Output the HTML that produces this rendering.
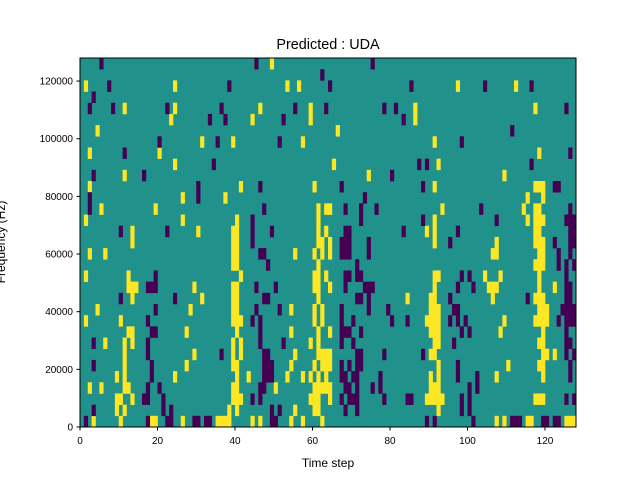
<!DOCTYPE html>
<html><head><style>body{margin:0;background:#fff}svg{display:block}text{font-family:"Liberation Sans",sans-serif;fill:#000}</style></head>
<body>
<svg id="s" width="640" height="480" xmlns="http://www.w3.org/2000/svg">
<rect x="80" y="58" width="496" height="369" fill="#21918c"/>
<g id="cells"></g>
<rect x="80" y="58" width="496" height="369" fill="none" stroke="#000" stroke-width="1"/>
<text x="328" y="49" font-size="14.4" text-anchor="middle" style="font-size:14.4px">Predicted : UDA</text>
<g id="ticks" font-size="10"></g>
<text x="328" y="467" font-size="12" text-anchor="middle">Time step</text>
<text transform="translate(5,242) rotate(-90)" font-size="12" text-anchor="middle">Frequency (Hz)</text>
</svg>
<script>
var Y=[
"49","","1,24,53,56,97,112","","11,24,46,59,86,117","23,44,59,86","4,66","31,39,57,91","2,20,118","24,65,92","11,74,109",
"2,41,60,91,117-119","26,37,115,119","5,19,61,63,64,93,114,117-118","1,26,40,61,91,115,117-119","13,30,39-40,61,63,89,91,117-118",
"13,39-40,61-62,64,91,107,117-119","2,6,39-40,55,60,62,64,106-107,118-119","39-40,61,117-119","1,12,41,60-61,63,91-92,104,108,118",
"12-14,29,39-40,60-61,64,91,105-107,118,122","13,31,39-40,61,84,90-91,106,117-119","4,28,39-40,54,60,62,90-92,118-120",
"1,10,39-41,60,62,89-92,109,117-120","12-13,27,40,54,61,64,90-92,108,119","6,11,13,39,41,59,61,91-92,118-119",
"11,29,39,41,55,61-64,90-91,119,120,122","11,27,39-40,54,60,62-64,92,110,118-119","9,11,24,40,43,53,57,59,61,63,90,92,107,119",
"2,5,11-12,39-40,50,60-64,90-92","9-10,13,39-41,59-61,64,89-93,117-119","9,11,38,40,55,60-61,92","3,10,18-19,26,35-38,44,46,54,57,62,107,109,115-116,125-127"];
var P=[
"5,45,75","62","7,38,64,85,104,116","3","2,8,22,36,55,63,78,81,125","33,37,52,83","111","20,35,51,98","11,126","34,87,89,116","3,16,80",
"30,46,67,88,122-123","2,30,73","2,47,68,72,76,103,126","44,72,88,107,125-127","10,22,44,49,68-69,83,97,126-127",
"44,67-69,74,95,122,126-127","46-47,67-69,74,123,126","48,71,123,125,127","19,68-69,71-72,98,100,125",
"17-19,45,50,68,73-75,97,101,125-126","10,24,47-48,71-72,74,95,115,125-126","19,45,51,67,74,79,96-97,124-127",
"17,44,46,67,70,80,84,95,97,99,123,125-127","18-19,46,67-69,72,98,100,125","3,17,46,52,67,70,96,125-126",
"17,36,47-48,71-72,78,88,125,127","3,18,47-49,67,69,71-72,97,126","18,47-49,67-68,70-71,77,97,102,126",
"17,20,46-47,68-69,71,75,77,100,102","16-17,21,44,46,67,69-71,78,84-85,98,100,125,127","3,21,23,49,51,68,71,98,100",
"1,17,22-23,29-30,32-33,49-50,89,91,101,111-113,119-120,122-123"];
var g=document.getElementById('cells'),h='',rh=369/33,cw=3.875;
function add(list,col){list.forEach(function(s,r){if(!s)return;s.split(',').forEach(function(t){var a=t.split('-'),c0=+a[0],c1=+(a[1]||a[0]);
h+='<rect x="'+(80+c0*cw)+'" y="'+(58+r*rh)+'" width="'+((c1-c0+1)*cw+0.3)+'" height="'+(rh+0.3)+'" fill="'+col+'"/>';});});}
add(Y,'#fde725');add(P,'#440154');g.innerHTML=h;
var t='';
for(var v=0;v<=120;v+=20){var x=80+v*cw;t+='<line x1="'+x+'" y1="427" x2="'+x+'" y2="430.5" stroke="#000"/><text x="'+x+'" y="444" text-anchor="middle">'+v+'</text>';}
for(var v=0;v<=120000;v+=20000){var y=427-v/128000*369;t+='<line x1="76.5" y1="'+y+'" x2="80" y2="'+y+'" stroke="#000"/><text x="73" y="'+(y+3.5)+'" text-anchor="end">'+v+'</text>';}
document.getElementById('ticks').innerHTML=t;
</script>
</body></html>
